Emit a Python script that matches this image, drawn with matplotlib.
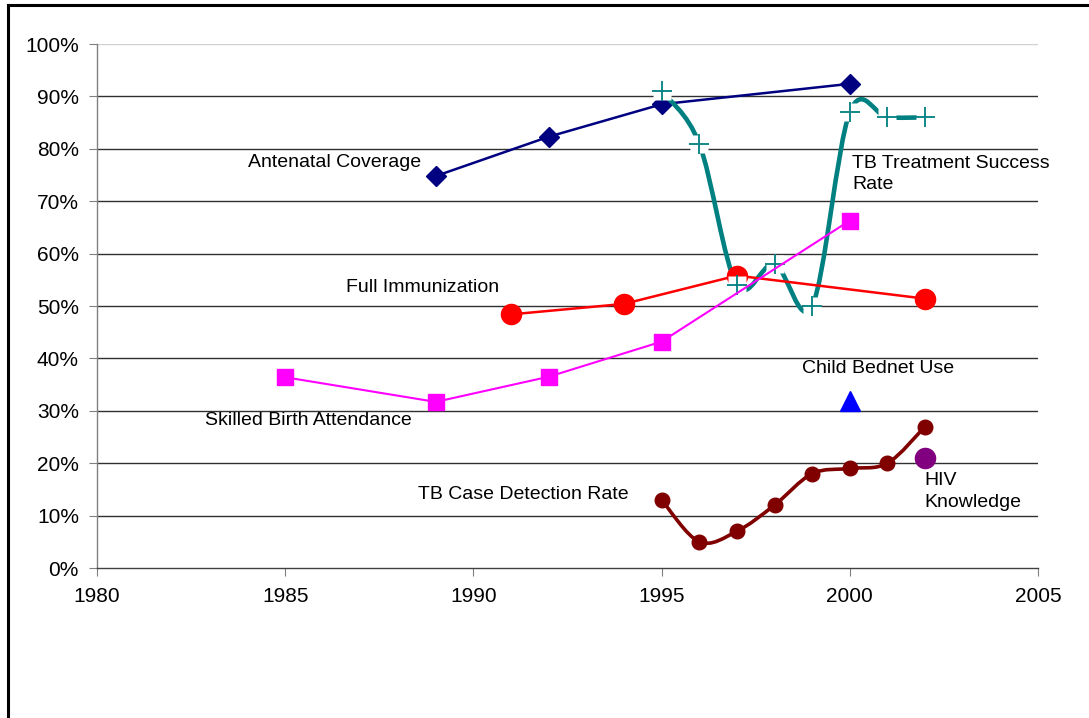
import numpy as np
import matplotlib
matplotlib.use("Agg")
import matplotlib.pyplot as plt
from matplotlib.path import Path
from matplotlib.patches import PathPatch
from matplotlib.lines import Line2D
from matplotlib.ticker import PercentFormatter

plt.rcParams['font.family'] = ['Liberation Sans', 'DejaVu Sans']

# Health indicator series (percent)
anc_years = [1989, 1992, 1995, 2000]
anc_vals = [74.8, 82.3, 88.5, 92.4]

tbts_years = [1995, 1996, 1997, 1998, 1999, 2000, 2001, 2002]
tbts_vals = [91.0, 81.0, 54.0, 58.0, 50.0, 87.0, 86.0, 86.0]

imm_years = [1991, 1994, 1997, 2002]
imm_vals = [48.4, 50.4, 55.8, 51.4]

sba_years = [1985, 1989, 1992, 1995, 2000]
sba_vals = [36.4, 31.7, 36.5, 43.2, 66.3]

bednet_years = [2000]
bednet_vals = [31.8]

tbcd_years = [1995, 1996, 1997, 1998, 1999, 2000, 2001, 2002]
tbcd_vals = [13.0, 5.0, 7.0, 12.0, 18.0, 19.0, 20.0, 27.0]

hiv_years = [2002]
hiv_vals = [21.0]

x_ticks = [1980, 1985, 1990, 1995, 2000, 2005]
y_ticks = [0, 10, 20, 30, 40, 50, 60, 70, 80, 90, 100]


def smooth_path(xs, ys):
    """Cardinal (Catmull-Rom) Bezier path through the given points."""
    pts = np.column_stack([xs, ys]).astype(float)
    n = len(pts)
    verts = [pts[0]]
    codes = [Path.MOVETO]
    for i in range(n - 1):
        p0 = pts[i - 1] if i > 0 else pts[i]
        p1 = pts[i]
        p2 = pts[i + 1]
        p3 = pts[i + 2] if i + 2 < n else pts[i + 1]
        c1 = p1 + (p2 - p0) / 6.0
        c2 = p2 - (p3 - p1) / 6.0
        verts += [c1, c2, p2]
        codes += [Path.CURVE4] * 3
    return Path(verts, codes)


W, H = 1089, 718
fig = plt.figure(figsize=(W / 100, H / 100), dpi=100)
ax = fig.add_axes([97 / W, 1 - 568 / H, (1038 - 97) / W, (568 - 44) / H])

ax.set_xlim(1980, 2005)
ax.set_ylim(0, 100)
ax.set_xticks(x_ticks)
ax.set_yticks(y_ticks)
ax.yaxis.set_major_formatter(PercentFormatter(decimals=0))

# Gridlines
for v in y_ticks[1:]:
    col = '#d0d0d0' if v == 100 else '#303030'
    ax.axhline(v, color=col, lw=1.0, zorder=0.5)

for side in ('top', 'right'):
    ax.spines[side].set_visible(False)
ax.spines['left'].set_color('#808080')
ax.spines['bottom'].set_color('#404040')
ax.spines['left'].set_linewidth(1.0)
ax.spines['bottom'].set_linewidth(1.0)
ax.tick_params(axis='both', direction='out', length=6, width=0.8,
               labelsize=15, colors='#808080', labelcolor='black')
ax.tick_params(axis='x', pad=8)
ax.tick_params(axis='y', pad=7)

# Antenatal coverage
ax.plot(anc_years, anc_vals, color='#000080', lw=1.8, marker='D',
        ms=10, zorder=2)

# Full immunization
ax.plot(imm_years, imm_vals, color='#FF0000', lw=1.8, marker='o',
        ms=14.5, zorder=3)

# TB treatment success rate (smoothed)
ax.add_patch(PathPatch(smooth_path(tbts_years, tbts_vals), fill=False,
                       edgecolor='#008080', lw=3.3, zorder=2.5,
                       capstyle='butt'))
ax.plot(tbts_years, tbts_vals, ls='none', marker='s', ms=13.5,
        mfc='white', mec='none', zorder=4)
ax.plot(tbts_years, tbts_vals, ls='none', marker='+', ms=15,
        mew=1.3, color='#008080', zorder=4.1)

# Skilled birth attendance
ax.plot(sba_years, sba_vals, color='#FF00FF', lw=1.5, marker='s',
        ms=11.5, zorder=5)

# TB case detection rate (smoothed)
ax.add_patch(PathPatch(smooth_path(tbcd_years, tbcd_vals), fill=False,
                       edgecolor='#800000', lw=2.6, zorder=5))
ax.plot(tbcd_years, tbcd_vals, ls='none', marker='o', ms=10.5,
        color='#800000', zorder=5.1)

# Single-point indicators
ax.plot(bednet_years, bednet_vals, ls='none', marker='^', ms=15,
        color='#0000FF', zorder=6)
ax.plot(hiv_years, hiv_vals, ls='none', marker='o', ms=14.5,
        color='#800080', zorder=6)

# Series labels
lab = dict(fontsize=14, color='black', zorder=7)
ax.text(1988.61, 77.3, 'Antenatal Coverage', ha='right', va='center', **lab)
ax.text(2000.06, 75.2, 'TB Treatment Success\nRate', ha='left',
        va='center', linespacing=1.35, **lab)
ax.text(1986.62, 53.6, 'Full Immunization', ha='left', va='center', **lab)
ax.text(1982.87, 28.2, 'Skilled Birth Attendance', ha='left',
        va='center', **lab)
ax.text(1998.73, 38.0, 'Child Bednet Use', ha='left', va='center', **lab)
ax.text(1988.53, 14.1, 'TB Case Detection Rate', ha='left',
        va='center', **lab)
ax.text(2001.97, 14.6, 'HIV\nKnowledge', ha='left', va='center',
        linespacing=1.35, **lab)

# Outer frame (left and top edges)
fig.add_artist(Line2D([7.5 / W, 7.5 / W], [0, 1 - 4.5 / H],
                      transform=fig.transFigure, color='black', lw=2.2,
                      solid_capstyle='projecting'))
fig.add_artist(Line2D([7.5 / W, 1], [1 - 4.5 / H, 1 - 4.5 / H],
                      transform=fig.transFigure, color='black', lw=2.2,
                      solid_capstyle='projecting'))

fig.savefig('out.png', dpi=100, facecolor='white')
